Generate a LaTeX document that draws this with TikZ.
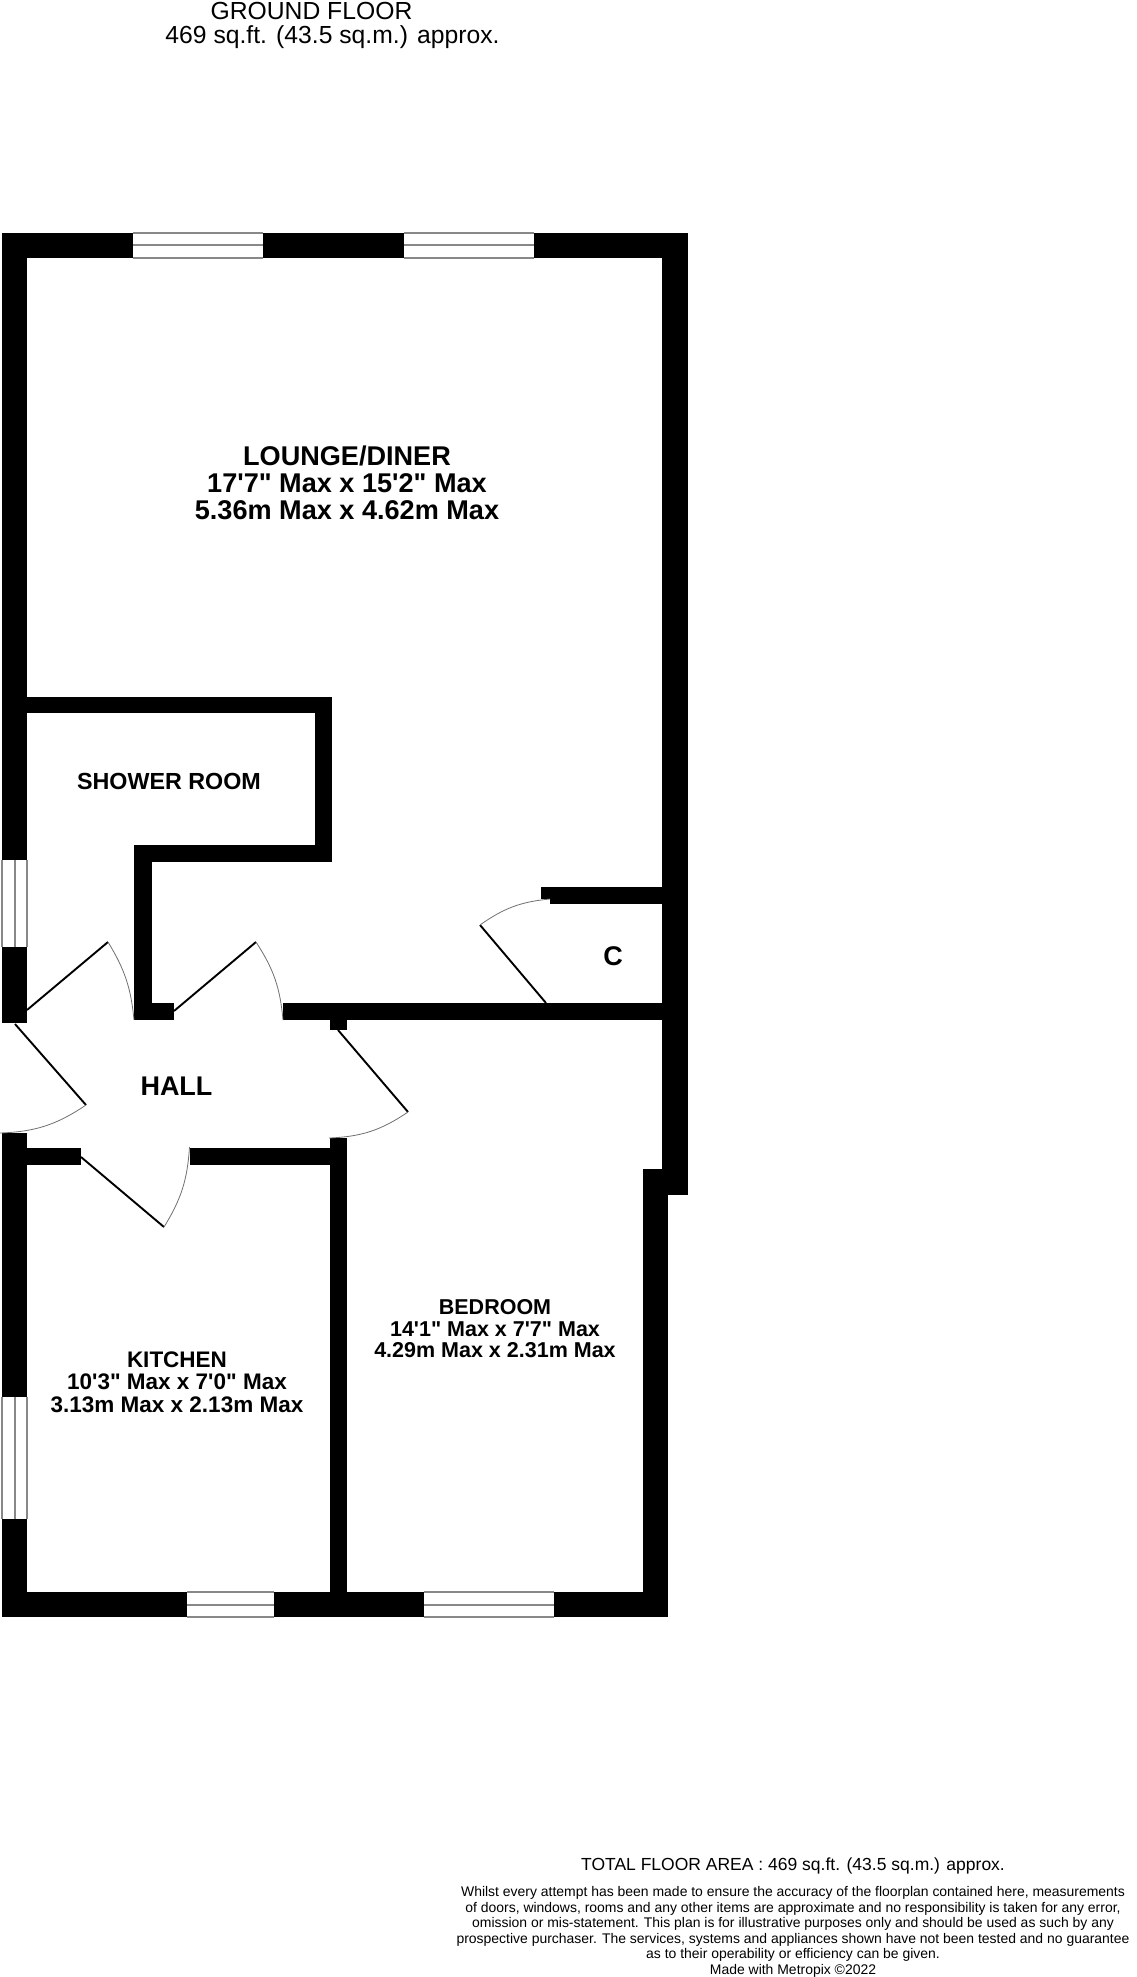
\documentclass[tikz,border=0pt]{standalone}
\usepackage{fontspec}
\setmainfont{Liberation Sans}[Ligatures=TeXOff]
\newcommand{\fsz}[2]{\fontsize{#1pt}{#2pt}\selectfont}
\tikzset{
  wall/.style={fill=black},
  winline/.style={draw=winGray,line width=2pt},
  leaf/.style={draw=black,line width=1.9pt},
  swing/.style={draw=arcGray,line width=0.8pt},
  label/.style={align=center,inner sep=0pt,text=black},
}
\definecolor{winGray}{HTML}{888888}
\definecolor{arcGray}{HTML}{707070}
\begin{document}
\begin{tikzpicture}[x=1pt,y=-1pt]
\useasboundingbox (0,0) rectangle (1136,1977);
\fill[white] (0,0) rectangle (1136,1977);
% outer walls
\fill[wall] (2,233) rectangle (688,258);
\fill[wall] (2,233) rectangle (27,1023);
\fill[wall] (662,233) rectangle (688,1195);
\fill[wall] (2,1133) rectangle (27,1617);
\fill[wall] (2,1592) rectangle (668,1617);
\fill[wall] (643,1169) rectangle (668,1617);
% shower room
\fill[wall] (27,697) rectangle (332,713);
\fill[wall] (315,697) rectangle (332,862);
\fill[wall] (134,845) rectangle (332,862);
\fill[wall] (134,845) rectangle (151.5,1020);
\fill[wall] (134,1003) rectangle (174,1020);
% hall and bedroom
\fill[wall] (283,1003) rectangle (662,1020);
\fill[wall] (330,1003) rectangle (347,1030);
\fill[wall] (27,1148) rectangle (81,1165);
\fill[wall] (190,1148) rectangle (347,1165);
\fill[wall] (330,1138) rectangle (347,1617);
% cupboard
\fill[wall] (550,887) rectangle (662,904);
\fill[wall] (541,887) rectangle (550,899);
% windows: horizontal
\foreach \xa/\xb/\ya in {133/263/233,404/534/233,187/274/1592,424/554/1592}{
  \fill[white] (\xa,\ya) rectangle (\xb,\ya+25);
  \draw[winline] (\xa,\ya) -- (\xb,\ya);
  \draw[winline] (\xa,\ya+12.5) -- (\xb,\ya+12.5);
  \draw[winline] (\xa,\ya+25) -- (\xb,\ya+25);
}
% windows: left
\foreach \ya/\yb in {860/947,1397/1519}{
  \fill[white] (2,\ya) rectangle (27,\yb);
  \draw[winline] (2,\ya) -- (2,\yb);
  \draw[winline] (14.5,\ya) -- (14.5,\yb);
  \draw[winline] (27,\ya) -- (27,\yb);
}
% doors
\coordinate (d1h) at (27,1010); \coordinate (d1o) at (108,942); \coordinate (d1c) at (134,1020);
\coordinate (d2h) at (174,1011); \coordinate (d2o) at (256,942); \coordinate (d2c) at (283,1020);
\coordinate (d3h) at (15,1024); \coordinate (d3o) at (86,1105); \coordinate (d3c) at (0,1133);
\coordinate (d4h) at (81,1157); \coordinate (d4o) at (164,1227); \coordinate (d4c) at (189.5,1147);
\coordinate (d5h) at (338,1030); \coordinate (d5o) at (408,1112); \coordinate (d5c) at (329,1138);
\coordinate (d6h) at (546,1003); \coordinate (d6o) at (480,925); \coordinate (d6c) at (550,899);
\draw[leaf] (d1h) -- (d1o); \draw[swing] (d1o) to[bend left=13] (d1c);
\draw[leaf] (d2h) -- (d2o); \draw[swing] (d2o) to[bend left=14] (d2c);
\draw[leaf] (d3h) -- (d3o); \draw[swing] (d3o) to[bend left=16] (d3c);
\draw[leaf] (d4h) -- (d4o); \draw[swing] (d4o) to[bend right=14] (d4c);
\draw[leaf] (d5h) -- (d5o); \draw[swing] (d5o) to[bend left=16] (d5c);
\draw[leaf] (d6h) -- (d6o); \draw[swing] (d6o) to[bend left=15] (d6c);
% labels
\node[label,font=\fsz{24.7}{27},anchor=base] (tA) at (311.5,20) {GROUND FLOOR};
\node[label,font=\fsz{24.7}{27},anchor=base] (tB) at (332.5,44) {469 sq.ft. (43.5 sq.m.) approx.};
\node[label,font=\fsz{27.1}{27}\bfseries] (lounge) at (347,482.5) {LOUNGE/DINER\\17'7" Max x 15'2" Max\\5.36m Max x 4.62m Max};
\node[label,font=\fsz{23.3}{23}\bfseries] (shower) at (169,781) {SHOWER ROOM};
\node[label,font=\fsz{27}{27}\bfseries] (hall) at (176.5,1086) {HALL};
\node[label,font=\fsz{27}{27}\bfseries] (cup) at (613,956) {C};
\node[label,font=\fsz{21.5}{21.5}\bfseries] (bed) at (495,1329) {BEDROOM\\14'1" Max x 7'7" Max\\4.29m Max x 2.31m Max};
\node[label,font=\fsz{22.5}{22.5}\bfseries] (kit) at (177,1382) {KITCHEN\\10'3" Max x 7'0" Max\\3.13m Max x 2.13m Max};
\node[label,font=\fsz{17.5}{19}] (total) at (793,1866) {TOTAL FLOOR AREA : 469 sq.ft. (43.5 sq.m.) approx.};
\node[label,font=\fsz{13.95}{15.5}] (disc) at (793,1932) {Whilst every attempt has been made to ensure the accuracy of the floorplan contained here, measurements\\of doors, windows, rooms and any other items are approximate and no responsibility is taken for any error,\\omission or mis-statement. This plan is for illustrative purposes only and should be used as such by any\\prospective purchaser. The services, systems and appliances shown have not been tested and no guarantee\\as to their operability or efficiency can be given.\\Made with Metropix \textcopyright 2022};
\end{tikzpicture}
\end{document}
